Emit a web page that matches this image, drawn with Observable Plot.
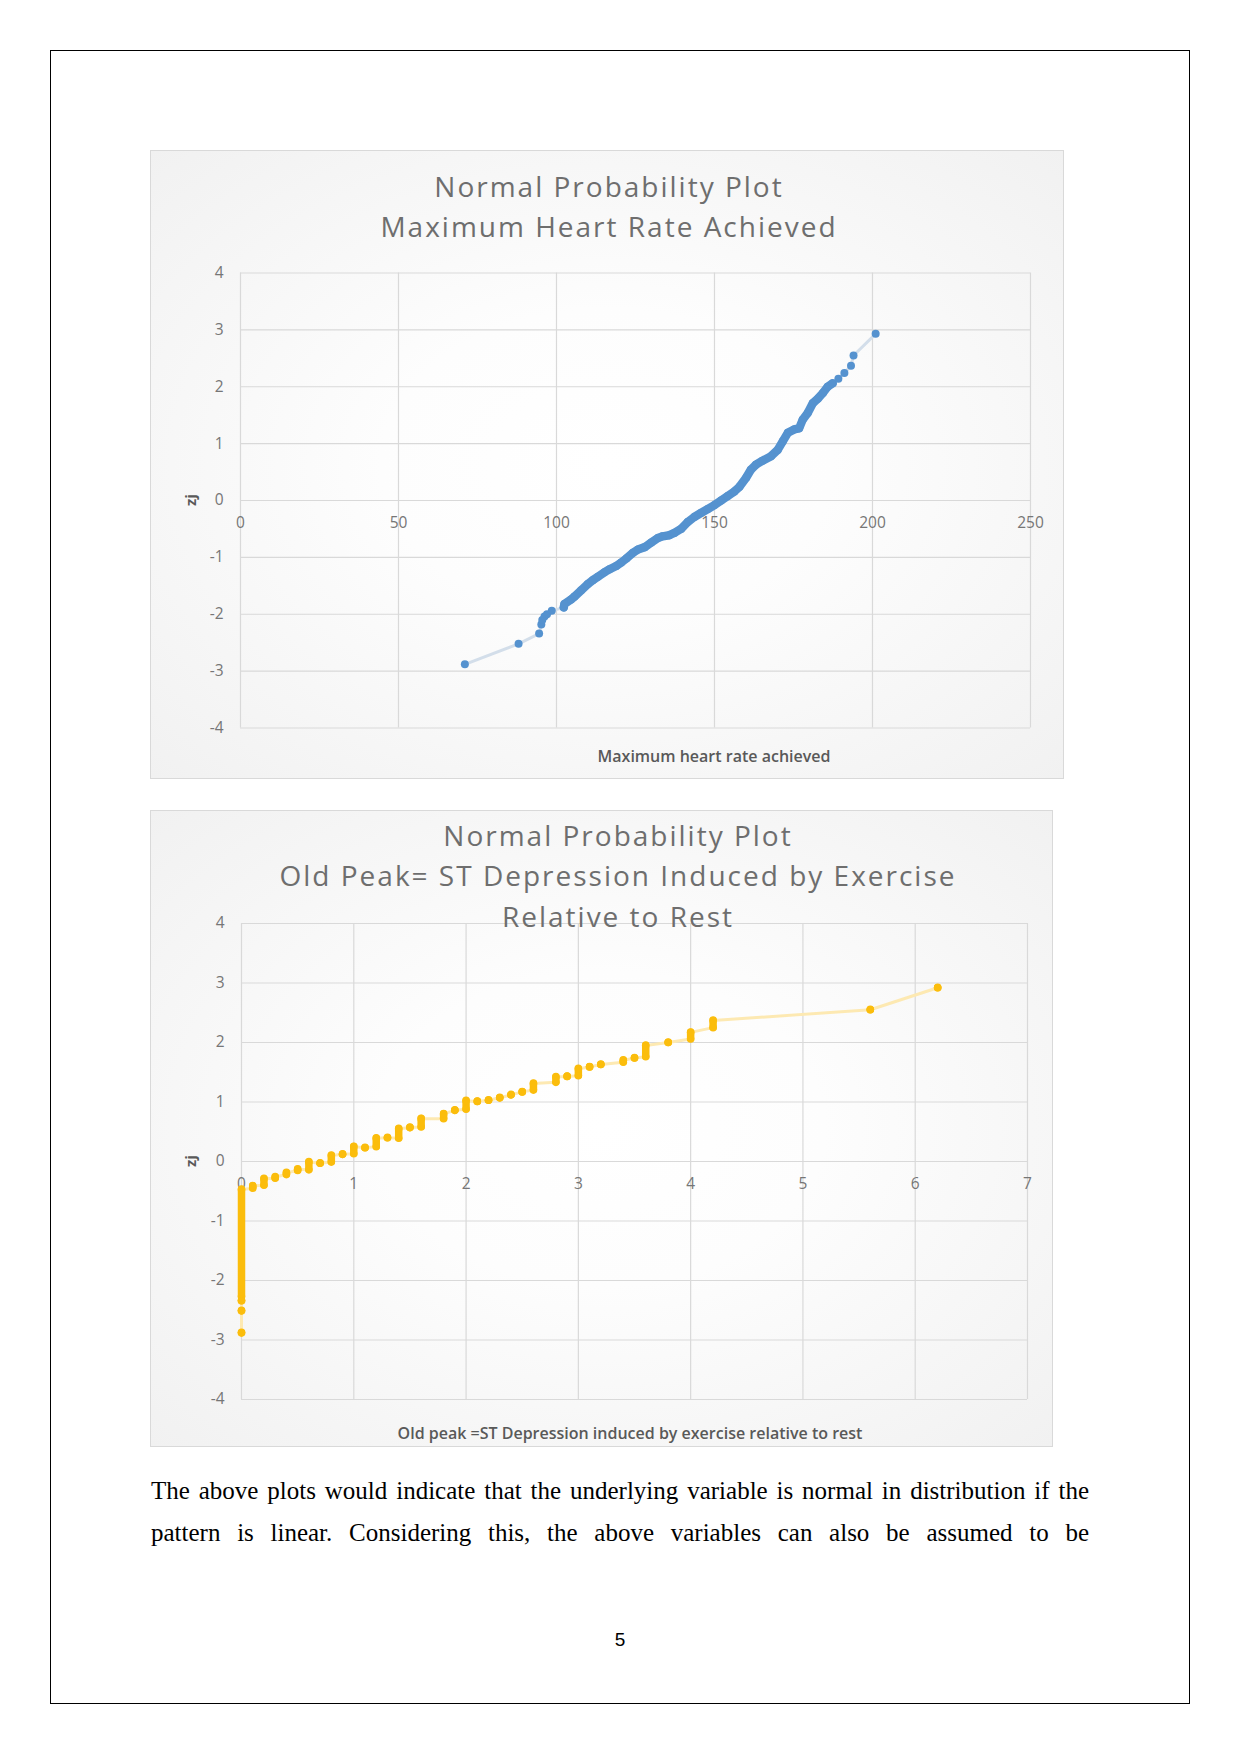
<!DOCTYPE html>
<html>
<head>
<meta charset="utf-8">
<script src="https://cdn.jsdelivr.net/npm/d3@7"></script>
<script src="https://cdn.jsdelivr.net/npm/@observablehq/plot@0.6"></script>
<style>
  html, body { margin: 0; padding: 0; background: #fff; }
  #page { position: relative; width: 1241px; height: 1754px; overflow: hidden; }
  #pageBorder { position: absolute; left: 50px; top: 50px; width: 1140px; height: 1654px;
    border: 1.6px solid #000; box-sizing: border-box; }
  .box { position: absolute; border: 1px solid #d9d9d9;
    background: radial-gradient(ellipse at 50% 50%, #ffffff 0%, #fdfdfd 35%, #f1f1f1 100%); }
  .box svg { position: absolute; left: 0; top: 0; overflow: visible; }
  .t { position: absolute; transform: translate(-50%, -50%); white-space: nowrap; line-height: 1; }
  .title { font-family: "Open Sans", sans-serif; font-size: 28px; color: #6e6e6e; letter-spacing: 2px; }
  .axt { font-family: "Open Sans", sans-serif; font-size: 16px; font-weight: 600; color: #595959; }
  .zj { font-family: "Open Sans", sans-serif; font-size: 15px; font-weight: 700; color: #595959;
    transform: translate(-50%, -50%) rotate(-90deg); }
  #para { position: absolute; left: 151px; top: 1470px; width: 938px;
    font-family: "Liberation Serif", "Times New Roman", serif; font-size: 25px; line-height: 42px; color: #000; }
  #para div { text-align: justify; text-align-last: justify; }
  #pnum { font-family: "Liberation Sans", sans-serif; font-size: 19px; color: #000; }
</style>
</head>
<body>
<div id="page">
  <div id="pageBorder"></div>
  <div class="box" id="box1" style="left:150px; top:150px; width:912px; height:627px;"></div>
  <div class="box" id="box2" style="left:150px; top:810px; width:901px; height:635px;"></div>

  <div class="t title" style="left:609px; top:186px;">Normal Probability Plot</div>
  <div class="t title" style="left:609px; top:226px;">Maximum Heart Rate Achieved</div>
  <div class="t zj" style="left:190px; top:500px;">zj</div>
  <div class="t axt" style="left:714px; top:756px;">Maximum heart rate achieved</div>

  <div class="t title" style="left:618px; top:835px;">Normal Probability Plot</div>
  <div class="t title" style="left:618px; top:875px;">Old Peak= ST Depression Induced by Exercise</div>
  <div class="t title" style="left:618px; top:916px;">Relative to Rest</div>
  <div class="t zj" style="left:190px; top:1161px;">zj</div>
  <div class="t axt" style="left:630px; top:1433px;">Old peak =ST Depression induced by exercise relative to rest</div>

  <div id="para">
    <div>The above plots would indicate that the underlying variable is normal in distribution if the</div>
    <div>pattern is linear. Considering this, the above variables can also be assumed to be</div>
  </div>
  <div class="t" id="pnum" style="left:620px; top:1639px;">5</div>
</div>
<script>
// ---------- Data: Maximum heart rate achieved (sorted) vs normal score zj ----------
const hrX = [71,88,94.5,95.2,95.5,96.2,97,98.5,102.3,102.5,104.6,105.7,107.8,109.9,111.5,113.1,115.2,116.8,
  118.9,120.5,122.1,124.2,125.8,127.9,130,132.1,133.6,135.7,137.3,139.4,141.5,143.6,145.7,147.9,150,152.1,154.2,156.3,
  157.9,160,161.5,163.1,165.2,167.9,170,171.6,173.2,175.2,176.8,177.9,179.5,181.1,182.7,184.3,185.8,187.4,189.2,191.1,
  193.2,194,201];
const hrZ = [-2.88,-2.52,-2.34,-2.18,-2.10,-2.04,-2.00,-1.94,-1.88,-1.82,-1.74,-1.69,-1.58,-1.47,-1.40,-1.34,-1.26,-1.21,
  -1.15,-1.09,-1.02,-0.92,-0.86,-0.82,-0.74,-0.66,-0.63,-0.61,-0.57,-0.50,-0.38,-0.29,-0.22,-0.15,-0.08,0.00,0.08,0.16,
  0.24,0.40,0.54,0.63,0.70,0.78,0.89,1.04,1.19,1.25,1.27,1.42,1.54,1.71,1.79,1.89,2.00,2.06,2.14,2.24,
  2.37,2.55,2.93];
const hrXTicks = [0, 50, 100, 150, 200, 250];

// ---------- Data: Old peak values, each with the low and high zj of its stack ----------
const opX  = [0,0,0,0,0.1,0.2,0.3,0.4,0.5,0.6,0.7,0.8,0.9,1.0,1.1,1.2,1.3,1.4,1.5,1.6,1.8,1.9,2.0,2.1,2.2,2.3,2.4,2.5,2.6,
  2.8,2.9,3.0,3.1,3.2,3.4,3.5,3.6,3.8,4.0,4.2,5.6,6.2];
const opLo = [-2.88,-2.51,-2.34,-2.27,-0.45,-0.40,-0.28,-0.22,-0.15,-0.14,-0.03,-0.01,0.12,0.13,0.23,0.25,0.40,0.39,0.57,0.58,
  0.72,0.86,0.88,1.01,1.03,1.07,1.12,1.17,1.20,1.33,1.43,1.44,1.59,1.63,1.67,1.74,1.76,2.00,2.06,2.25,2.55,2.92];
const opHi = [-2.88,-2.51,-2.34,-0.47,-0.41,-0.29,-0.26,-0.19,-0.13,-0.01,-0.03,0.10,0.12,0.25,0.23,0.39,0.40,0.55,0.57,0.72,
  0.80,0.86,1.02,1.01,1.03,1.07,1.12,1.17,1.31,1.42,1.43,1.56,1.59,1.63,1.70,1.74,1.95,2.00,2.17,2.37,2.55,2.92];
const opXTicks = [0, 1, 2, 3, 4, 5, 6, 7];

const zTicks = [-4, -3, -2, -1, 0, 1, 2, 3, 4];

const gridColor = "#d9d9d9";
const tickColor = "#767676";
const blue = "#5592cf";
const gold = "#fbbd0c";

// ---------- Chart 1 ----------
const hrRows = hrX.map((x, i) => ({x, z: hrZ[i]}));
const chart1 = Plot.plot({
  width: 912, height: 627,
  marginLeft: 89, marginRight: 33, marginTop: 121.5, marginBottom: 50.5,
  x: {domain: [0, 250], axis: null},
  y: {domain: [-4, 4], axis: null},
  style: {background: "transparent", fontFamily: "'Open Sans', sans-serif", fontSize: "15px", overflow: "visible"},
  marks: [
    Plot.ruleX(hrXTicks, {x: d => d, stroke: gridColor, strokeWidth: 1.2}),
    Plot.ruleY(zTicks, {y: d => d, stroke: gridColor, strokeWidth: 1.2}),
    Plot.text(zTicks, {x: 0, y: d => d, text: d => String(d), dx: -17, textAnchor: "end", fill: tickColor, fontSize: 15.5}),
    Plot.text(hrXTicks, {x: d => d, y: 0, text: d => String(d), dy: 23, fill: tickColor, fontSize: 15.5}),
    Plot.line(hrRows, {x: "x", y: "z", stroke: "#d3deea", strokeWidth: 3}),
    Plot.line(hrRows.filter(d => d.x >= 102 && d.x <= 188), {x: "x", y: "z", stroke: blue, strokeWidth: 8.5,
      strokeLinecap: "round", strokeLinejoin: "round"}),
    Plot.dot(hrRows, {x: "x", y: "z", r: 4, fill: blue, stroke: "none"})
  ]
});
document.getElementById("box1").appendChild(chart1);

// ---------- Chart 2 ----------
const opRows = opX.map((x, i) => ({x, lo: opLo[i], hi: opHi[i]}));
const opPath = opRows.flatMap(d => [{x: d.x, z: d.lo}, {x: d.x, z: d.hi}]);
const chart2 = Plot.plot({
  width: 901, height: 635,
  marginLeft: 90, marginRight: 25, marginTop: 112, marginBottom: 47,
  x: {domain: [0, 7], axis: null},
  y: {domain: [-4, 4], axis: null},
  style: {background: "transparent", fontFamily: "'Open Sans', sans-serif", fontSize: "15px", overflow: "visible"},
  marks: [
    Plot.ruleX(opXTicks, {x: d => d, stroke: gridColor, strokeWidth: 1.2}),
    Plot.ruleY(zTicks, {y: d => d, stroke: gridColor, strokeWidth: 1.2}),
    Plot.text(zTicks, {x: 0, y: d => d, text: d => String(d), dx: -17, textAnchor: "end", fill: tickColor, fontSize: 15.5}),
    Plot.text(opXTicks, {x: d => d, y: 0, text: d => String(d), dy: 23, fill: tickColor, fontSize: 15.5}),
    Plot.line(opPath, {x: "x", y: "z", stroke: "#fde9b2", strokeWidth: 3}),
    Plot.ruleX(opRows, {x: "x", y1: "lo", y2: "hi", stroke: gold, strokeWidth: 7.5, strokeLinecap: "round"}),
    Plot.dot(opRows, {x: "x", y: "lo", r: 3.8, fill: gold, stroke: "none"}),
    Plot.dot(opRows, {x: "x", y: "hi", r: 3.8, fill: gold, stroke: "none"})
  ]
});
document.getElementById("box2").appendChild(chart2);
</script>
</body>
</html>
